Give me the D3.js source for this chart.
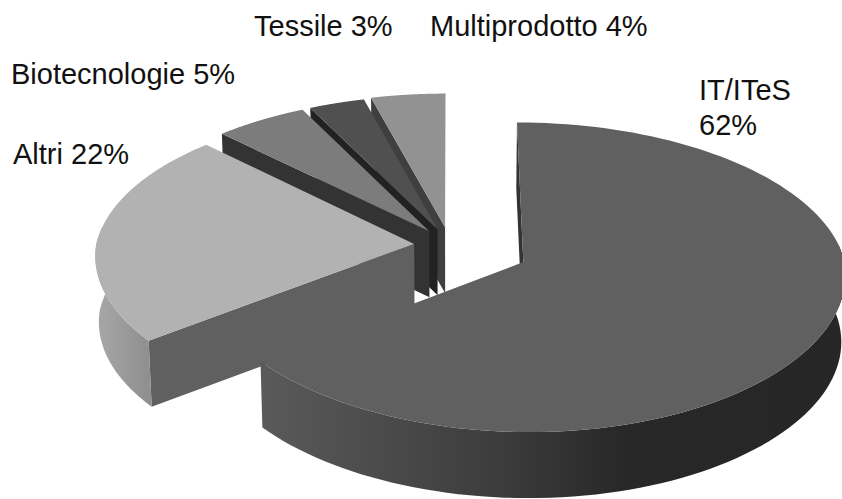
<!DOCTYPE html>
<html>
<head>
<meta charset="utf-8">
<script src="https://cdn.jsdelivr.net/npm/d3@7"></script>
<style>
  html, body { margin: 0; padding: 0; background: #fff; }
  svg { display: block; }
  text { font-family: "Liberation Sans", Arial, sans-serif; font-size: 29px; fill: #111; }
</style>
</head>
<body>
<svg id="chart" width="842" height="499"></svg>
<script>
const categories = ["IT/ITeS", "Altri", "Biotecnologie", "Tessile", "Multiprodotto"];
const shares = [62, 22, 5, 3, 4];
const exploded = [0.255, 0.113, 0.113, 0.113, 0.12];
const labelLines = [["IT/ITeS", "62%"], ["Altri 22%"], ["Biotecnologie 5%"], ["Tessile 3%"], ["Multiprodotto 4%"]];

// styling per slice
const topColors = ["#606060", "#b2b2b2", "#7c7c7c", "#505050", "#929292"];
const wallColors = ["#333333", "#606060", "#333333", "#222222", "#3f3f3f"];
const rimStops = [
  [[0, "#5a5a5a"], [0.41, "#3c3c3c"], [0.62, "#282828"], [1, "#262626"]],
  [[0, "#a8a8a8"], [1, "#8f8f8f"]],
  [[0, "#444"], [1, "#444"]],
  [[0, "#333"], [1, "#333"]],
  [[0, "#555"], [1, "#555"]]
];
const labelPos = [[699, 100], [13, 164], [11, 84], [254, 36], [430, 36]];
const lineHeight = 35;

// pie plane -> screen, light perspective so the back shrinks
const cx = 450, cy = 245, rx = 318, ry = 150, persp = 0.097, depth = 66, squeeze = 0.01;

function project(u, v, z) {
  const w = 1 + persp * v;
  // front half spreads a bit less sideways than it drops
  const wx = v > 0 ? w : 1 + 0.75 * persp * v;
  const x = cx + rx * u / wx;
  return [cx + (x - cx) * (1 - squeeze * z), cy - ry * v / w + depth * z];
}

const svg = d3.select("#chart");
const defs = svg.append("defs");
const line = d3.line();

const arcs = d3.pie().sort(null).value(d => d)(shares);

const slices = arcs.map((a, i) => {
  const mid = (a.startAngle + a.endAngle) / 2;
  return {
    i,
    a0: a.startAngle,
    a1: a.endAngle,
    ox: exploded[i] * Math.sin(mid),
    oy: exploded[i] * Math.cos(mid)
  };
});

function rimPoint(s, t, z) {
  return project(s.ox + Math.sin(t), s.oy + Math.cos(t), z);
}

// back slices first
[4, 3, 2, 1, 0].forEach(i => {
  const s = slices[i];
  const g = svg.append("g").attr("class", "slice");
  const angles = d3.range(0, 121).map(k => s.a0 + (s.a1 - s.a0) * k / 120);
  const apexTop = project(s.ox, s.oy, 0);
  const apexBot = project(s.ox, s.oy, 1);

  // only the wall at the start angle ever faces the viewer here
  g.append("path")
    .attr("fill", wallColors[i])
    .attr("d", line([apexTop, rimPoint(s, s.a0, 0), rimPoint(s, s.a0, 1), apexBot]) + "Z");

  // outer rim, only the front half can be seen
  const rimAngles = angles.filter(t => Math.cos(t) < 0.12);
  if (rimAngles.length > 1) {
    const topEdge = rimAngles.map(t => rimPoint(s, t, 0));
    const botEdge = rimAngles.map(t => rimPoint(s, t, 1)).reverse();
    const xs = topEdge.map(p => p[0]);
    const gradId = "rim" + i;
    defs.append("linearGradient")
      .attr("id", gradId)
      .attr("gradientUnits", "userSpaceOnUse")
      .attr("x1", d3.min(xs)).attr("x2", d3.max(xs))
      .attr("y1", 0).attr("y2", 0)
      .selectAll("stop")
      .data(rimStops[i])
      .join("stop")
      .attr("offset", d => d[0])
      .attr("stop-color", d => d[1]);
    g.append("path")
      .attr("fill", `url(#${gradId})`)
      .attr("d", line(topEdge.concat(botEdge)) + "Z");
  }

  // top face
  g.append("path")
    .attr("fill", topColors[i])
    .attr("d", line([apexTop].concat(angles.map(t => rimPoint(s, t, 0)))) + "Z");
});

labelLines.forEach((lines, i) => {
  const t = svg.append("text").attr("x", labelPos[i][0]).attr("y", labelPos[i][1]);
  lines.forEach((l, k) => {
    t.append("tspan")
      .attr("x", labelPos[i][0])
      .attr("dy", k === 0 ? 0 : lineHeight)
      .text(l);
  });
});
</script>
</body>
</html>
